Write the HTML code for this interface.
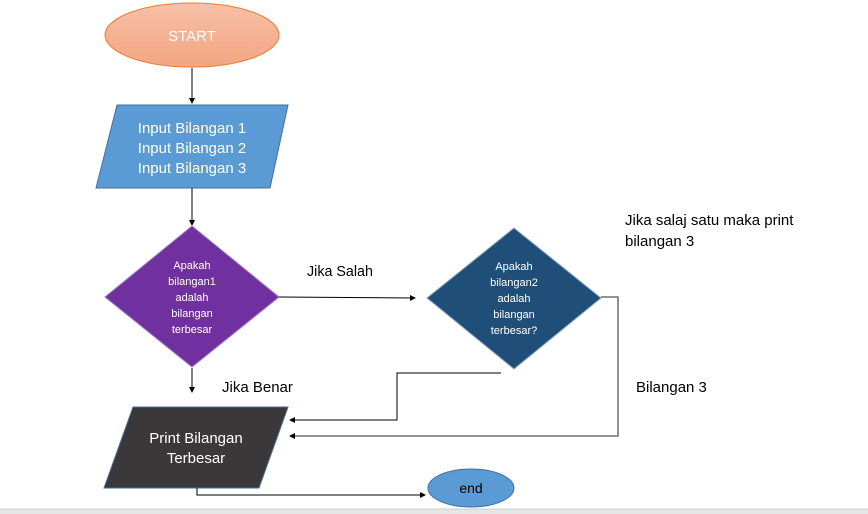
<!DOCTYPE html>
<html><head><meta charset="utf-8"><style>
html,body{margin:0;padding:0;background:#fff;width:868px;height:514px;overflow:hidden}
svg text{font-family:"Liberation Sans",sans-serif}
</style></head><body>
<svg width="868" height="514" viewBox="0 0 868 514" xmlns="http://www.w3.org/2000/svg">
<defs>
<marker id="a" markerWidth="6" markerHeight="6" refX="5" refY="3" orient="auto" markerUnits="userSpaceOnUse">
<path d="M0,0 L6,3 L0,6 z" fill="#000"/></marker>
<linearGradient id="g" x1="0" y1="0" x2="0" y2="1"><stop offset="0" stop-color="#f7c0a6"/><stop offset="1" stop-color="#f4a582"/></linearGradient>
</defs>
<rect x="0" y="509" width="868" height="5" fill="#e6e6e6"/>
<line x1="0" y1="509" x2="868" y2="509" stroke="#cfcfcf"/>
<ellipse cx="192" cy="35" rx="87" ry="32" fill="url(#g)" stroke="#ed7d31" stroke-width="1"/>
<text x="192" y="41" fill="#fff" font-size="15" text-anchor="middle">START</text>
<line x1="192" y1="68" x2="192" y2="103" stroke="#000" marker-end="url(#a)"/>
<polygon points="117,105 288,105 270,188 96,188" fill="#5b9bd5" stroke="#41719c"/>
<g fill="#fff" font-size="15" text-anchor="middle">
<text x="192" y="133">Input Bilangan 1</text>
<text x="192" y="153">Input Bilangan 2</text>
<text x="192" y="173">Input Bilangan 3</text></g>
<line x1="192" y1="188" x2="192" y2="225" stroke="#000" marker-end="url(#a)"/>
<polygon points="192,226 279,297 192,367 105,297" fill="#7030a0" stroke="#9c7cc0"/>
<g fill="#fff" font-size="11" text-anchor="middle">
<text x="192" y="269">Apakah</text><text x="192" y="285">bilangan1</text><text x="192" y="301">adalah</text><text x="192" y="317">bilangan</text><text x="192" y="333">terbesar</text></g>
<line x1="192" y1="368" x2="192" y2="392" stroke="#000" marker-end="url(#a)"/>
<line x1="279" y1="297" x2="415" y2="298" stroke="#000" marker-end="url(#a)"/>
<text x="307" y="276" font-size="14.3" fill="#000">Jika Salah</text>
<polygon points="514,228 601,298 514,369 427,298" fill="#1f4e79" stroke="#8fa9c4"/>
<g fill="#fff" font-size="11" text-anchor="middle">
<text x="514" y="270">Apakah</text><text x="514" y="286">bilangan2</text><text x="514" y="302">adalah</text><text x="514" y="318">bilangan</text><text x="514" y="334">terbesar?</text></g>
<polyline points="601,297 618,297 618,436 290,436" fill="none" stroke="#555" stroke-width="1.3" marker-end="url(#a)"/>
<polyline points="501,373 397,373 397,420 290,420" fill="none" stroke="#000" marker-end="url(#a)"/>
<text x="625" y="225" font-size="15" fill="#000">Jika salaj satu maka print</text>
<text x="625" y="246" font-size="15" fill="#000">bilangan 3</text>
<text x="636" y="392" font-size="15" fill="#000">Bilangan 3</text>
<text x="222" y="392" font-size="15" fill="#000">Jika Benar</text>
<polygon points="133,407 288,407 259,488 104,488" fill="#3a3838" stroke="#41719c"/>
<text x="196" y="443" fill="#fff" font-size="15" text-anchor="middle">Print Bilangan</text>
<text x="196" y="463" fill="#fff" font-size="15" text-anchor="middle">Terbesar</text>
<polyline points="197,488 197,495 425,495" fill="none" stroke="#000" marker-end="url(#a)"/>
<ellipse cx="471" cy="488" rx="43" ry="19" fill="#5b9bd5" stroke="#41719c"/>
<text x="471" y="493" fill="#000" font-size="14" text-anchor="middle">end</text>
</svg>
</body></html>
